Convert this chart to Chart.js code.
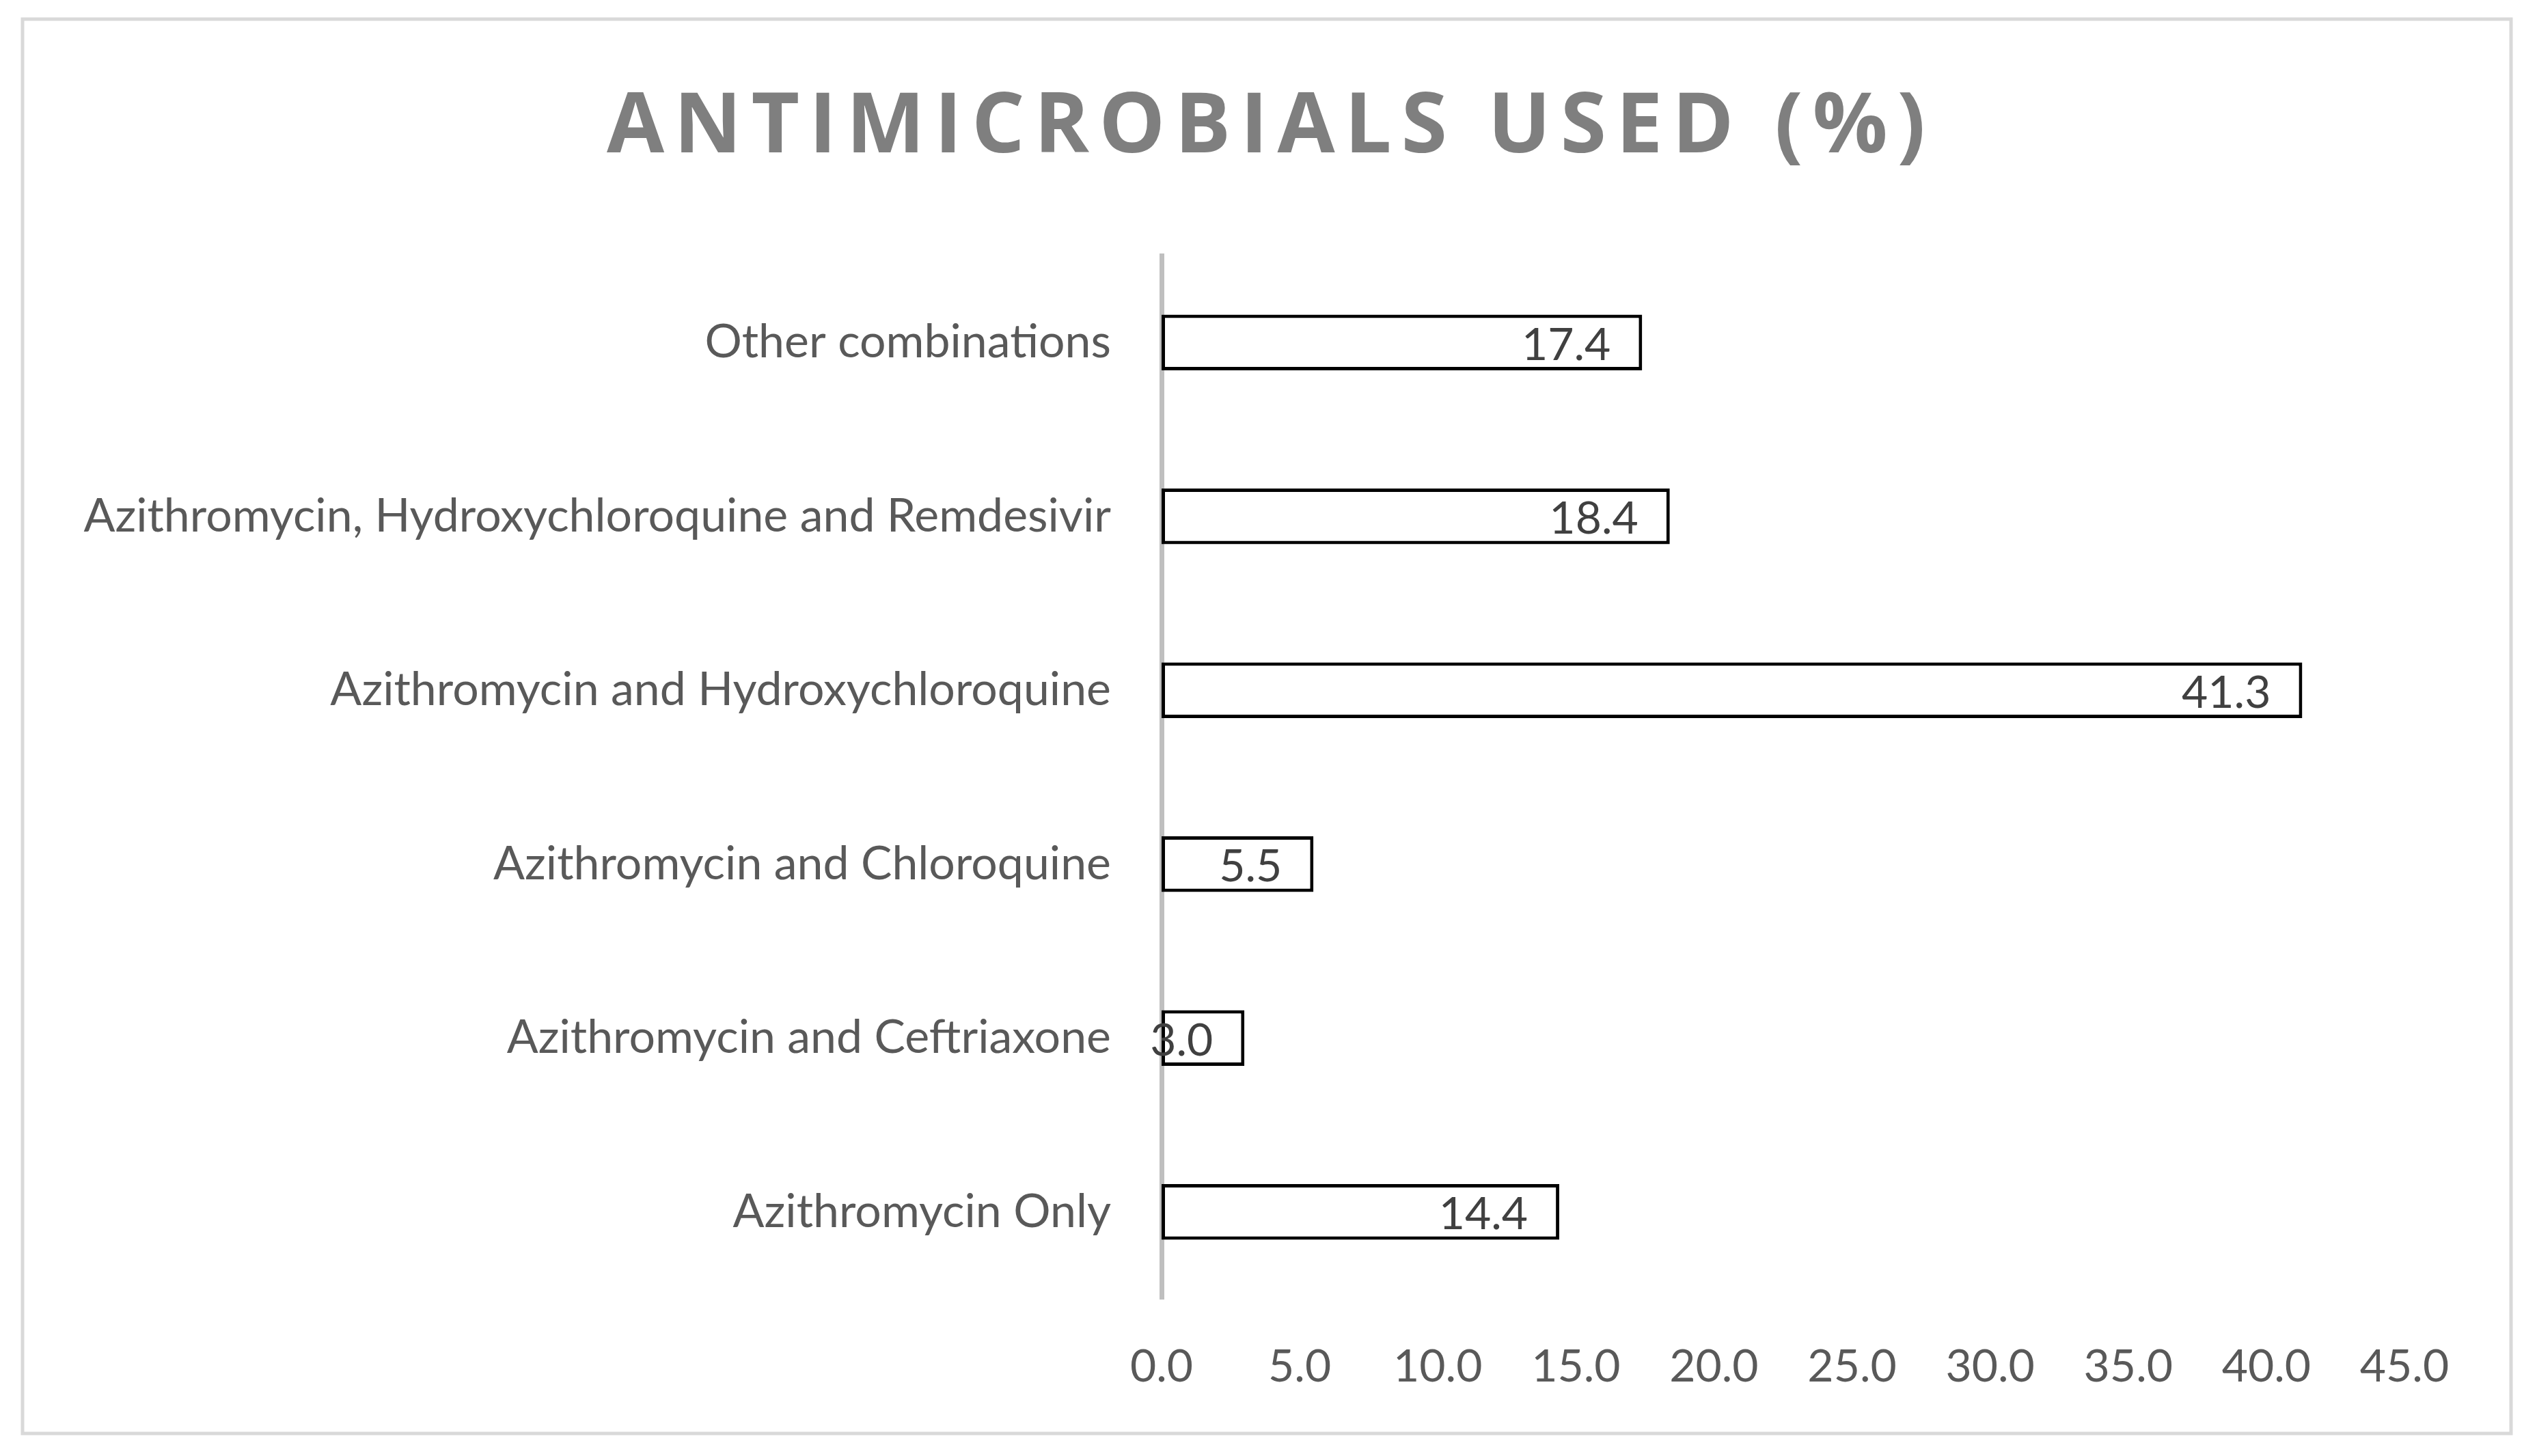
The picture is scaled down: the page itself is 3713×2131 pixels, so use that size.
<!DOCTYPE html>
<html><head><meta charset="utf-8">
<script src="https://cdn.jsdelivr.net/npm/chart.js@4"></script>
<style>html,body{margin:0;padding:0;background:#fff}canvas{display:block}</style>
</head><body>
<div style="width:3713px;height:2131px"><canvas id="c"></canvas></div>
<script>
const categories = ["Other combinations","Azithromycin, Hydroxychloroquine and Remdesivir","Azithromycin and Hydroxychloroquine","Azithromycin and Chloroquine","Azithromycin and Ceftriaxone","Azithromycin Only"];
const values = [17.4, 18.4, 41.3, 5.5, 3.0, 14.4];
const tickLabels = ["0.0","5.0","10.0","15.0","20.0","25.0","30.0","35.0","40.0","45.0"];
const titleText = 'ANTIMICROBIALS USED (%)';

const frame = {id:'frame', afterDraw(ch){const c=ch.ctx;c.save();c.strokeStyle='#d9d9d9';c.lineWidth=5;c.strokeRect(33,28,3642,2070);
  c.font='bold 122px "Open Sans"';c.fillStyle='#7f7f7f';c.textAlign='center';c.textBaseline='middle';
  try{c.letterSpacing='14px';}catch(e){}
  c.fillText(titleText,1860,188);c.restore();}};
const labels = {id:'labels', afterDatasetsDraw(ch){const c=ch.ctx;const m=ch.getDatasetMeta(0);c.save();c.font='66px Lato';c.fillStyle='#404040';c.textAlign='right';c.textBaseline='middle';
  m.data.forEach((b,i)=>{c.fillText(values[i].toFixed(1),b.x-46,b.y+4);});c.restore();}};

new Chart(document.getElementById('c'),{
  type:'bar',
  data:{labels:categories,datasets:[{data:values,backgroundColor:'#ffffff',borderColor:'#000000',borderWidth:5,borderSkipped:false,barPercentage:0.32,categoryPercentage:1}]},
  options:{indexAxis:'y',responsive:true,maintainAspectRatio:false,animation:false,
    layout:{padding:{left:0,right:194,top:374,bottom:70}},
    plugins:{legend:{display:false},tooltip:{enabled:false},title:{display:false}},
    scales:{
      x:{min:0,max:45,grid:{display:false},border:{display:false},
        afterBuildTicks(s){s.ticks=tickLabels.map(t=>({value:parseFloat(t)}));},
        ticks:{color:'#595959',font:{family:'Lato',size:66},padding:52,callback:(v,i)=>tickLabels[i]},
        afterFit(s){s.height=160;}},
      y:{grid:{display:false},border:{display:true,color:'#bfbfbf',width:7},
        ticks:{color:'#595959',font:{family:'Lato',size:68},padding:66},
        afterFit(s){s.width=1700;}}
    }},
  plugins:[frame,labels]
});
</script></body></html>
